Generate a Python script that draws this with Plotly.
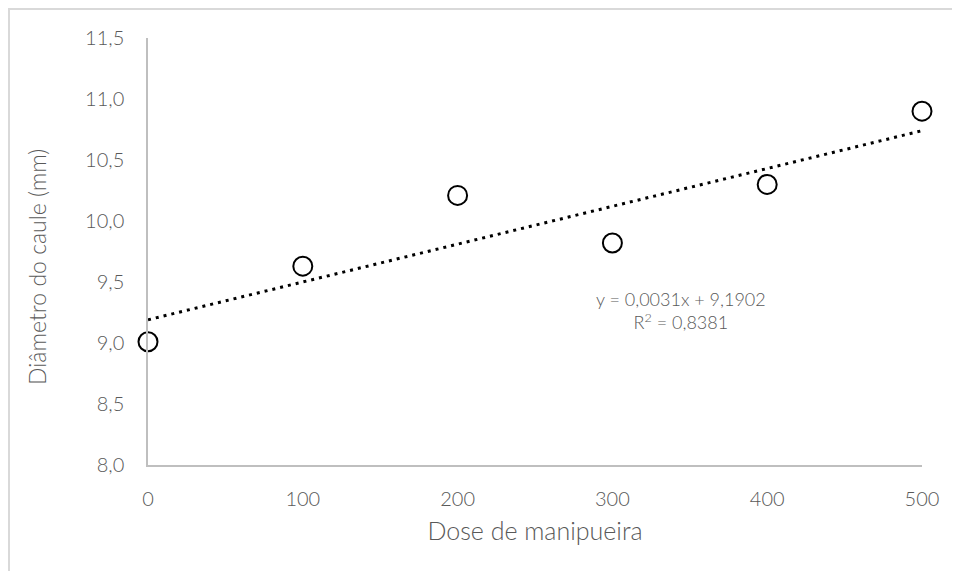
import plotly.graph_objects as go

dose = [0, 100, 200, 300, 400, 500]
diametro = [9.01, 9.63, 10.21, 9.82, 10.30, 10.90]
slope = 0.0031
intercept = 9.1902
r2 = 0.8381
trend_x = [0, 500]
trend_y = [intercept + slope * x for x in trend_x]

FONT = "Lato"
TXT = "#595959"

W, H = 944, 563
L, R, T, B = 140, 30, 30, 106
PW, PH = W - L - R, H - T - B

fig = go.Figure()
fig.add_trace(go.Scatter(
    x=trend_x, y=trend_y, mode="lines",
    line=dict(color="black", width=3, dash="3px,5px"),
    hoverinfo="skip", showlegend=False, cliponaxis=False))
fig.add_trace(go.Scatter(
    x=dose, y=diametro, mode="markers",
    marker=dict(symbol="circle-open", size=19, color="black", line=dict(width=2)),
    showlegend=False, cliponaxis=False))

fig.add_annotation(
    x=344, y=9.27, xref="x", yref="y",
    text="y = 0,0031x + 9,1902<br>R<sup>2</sup> = 0,8381",
    showarrow=False, align="center",
    font=dict(family=FONT, size=18, color=TXT, weight=300))

# y-axis title
fig.add_annotation(
    x=-(L - 29) / PW, y=1 - (259 - T) / PH, xref="paper", yref="paper",
    text="Diâmetro do caule (mm)", textangle=-90,
    showarrow=False, xanchor="center", yanchor="middle",
    font=dict(family=FONT, size=23, color=TXT, weight=300))

fig.update_layout(
    width=W, height=H,
    margin=dict(l=L, r=R, t=T, b=B),
    paper_bgcolor="white", plot_bgcolor="white",
    separators=",.",
    font=dict(family=FONT, size=20, color=TXT, weight=300),
    shapes=[
        dict(type="line", xref="paper", yref="paper", x0=-L / PW, x1=1 + R / PW,
             y0=1 + (T - 1) / PH, y1=1 + (T - 1) / PH,
             line=dict(color="#d9d9d9", width=2)),
        dict(type="line", xref="paper", yref="paper", x0=-(L - 1) / PW, x1=-(L - 1) / PW,
             y0=-B / PH, y1=1 + T / PH,
             line=dict(color="#d9d9d9", width=2)),
    ],
)
fig.update_xaxes(
    range=[0, 500], tickvals=[0, 100, 200, 300, 400, 500],
    showgrid=False, zeroline=False, showline=True, linecolor="#bfbfbf", linewidth=1.5,
    ticks="", ticklabelstandoff=15,
    tickfont=dict(family=FONT, size=20, color=TXT, weight=300),
    title=dict(text="Dose de manipueira", font=dict(family=FONT, size=25, color=TXT, weight=300), standoff=14))
fig.update_yaxes(
    range=[8.0, 11.5], tickvals=[8.0, 8.5, 9.0, 9.5, 10.0, 10.5, 11.0, 11.5], tickformat=".1f",
    showgrid=False, zeroline=False, showline=True, linecolor="#bfbfbf", linewidth=1.5,
    ticks="", ticklabelstandoff=18,
    tickfont=dict(family=FONT, size=20, color=TXT, weight=300))

fig.write_html("out.html")
